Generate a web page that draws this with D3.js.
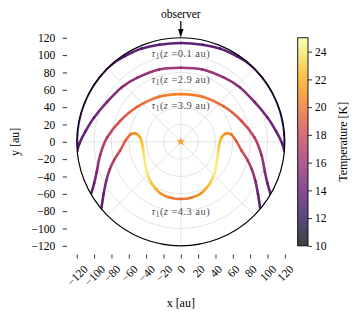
<!DOCTYPE html>
<html>
<head>
<meta charset="utf-8">
<script src="https://cdn.jsdelivr.net/npm/d3@7"></script>
<style>
body { margin: 0; background: #fff; }
text { font-family: "Liberation Serif", "Times New Roman", serif; }
</style>
</head>
<body>
<svg id="chart" width="359" height="320"></svg>
<script>
// tau = 1 surfaces at a few heights z, points as [x au, y au, T K]
const zLevels = ["0.1", "2.9", "3.9", "4.3"];

const tauZ01 = [
    [-119.8, -6, 13], [-119.6, 8, 13], [-117.5, 24, 13], [-112.8, 41, 13.2],
    [-104, 60, 13.3], [-92, 77, 13.4], [-80, 89, 13.5], [-65, 98.5, 13.5],
    [-45, 107.5, 13.6], [-25, 112, 13.6], [0, 114, 13.6], [25, 112, 13.6],
    [45, 107.5, 13.6], [65, 98.5, 13.5], [80, 89, 13.5], [92, 77, 13.4],
    [104, 60, 13.3], [112.8, 41, 13.2], [117.5, 24, 13], [119.6, 8, 13], [119.8, -8, 13]
];

const tauZ29 = [
    [-119.5, -11, 13.5], [-117, -2, 13.7], [-110, 12, 14], [-100, 28, 14.3],
    [-85, 46, 14.8], [-68, 63, 15.3], [-50, 74, 15.7], [-25, 83.5, 16], [0, 85.5, 16.1],
    [25, 83.5, 16], [50, 74, 15.7], [68, 63, 15.3], [85, 46, 14.8], [100, 28, 14.3],
    [110, 12, 14], [117, -2, 13.7], [119.5, -11, 13.5]
];

const tauZ39 = [
    [-104, -62, 13.5], [-100, -48, 14.2], [-97, -35, 15], [-93, -15, 16.2],
    [-85, 5, 17.3], [-70, 24, 18.5], [-50, 40.5, 19.5], [-25, 52, 20.3], [0, 55, 20.6],
    [25, 52, 20.3], [50, 40.5, 19.5], [70, 24, 18.5], [85, 5, 17.3], [93, -15, 16.2],
    [97, -35, 15], [100, -48, 14.2], [104, -62, 13.5]
];

const tauZ43 = [
    [-91.5, -76, 13], [-89, -60, 14], [-86, -45, 15.3], [-82, -32, 16.3],
    [-77, -21, 17.3], [-70, -10, 18.3], [-64, 1, 19.3], [-58, 8.5, 20.3],
    [-52, 9.5, 21], [-47, 5, 22], [-44, -5, 23], [-42, -20, 24.2], [-39, -36, 24.2],
    [-33, -49, 22.8], [-24, -59, 21.3], [-12, -64.5, 20.2], [0, -66, 19.8],
    [12, -64.5, 20.2], [24, -59, 21.3], [33, -49, 22.8], [39, -36, 24.2], [42, -20, 24.2],
    [44, -5, 23], [47, 5, 22], [52, 9.5, 21], [58, 8.5, 20.3], [64, 1, 19.3],
    [70, -10, 18.3], [77, -21, 17.3], [82, -32, 16.3], [86, -45, 15.3], [89, -60, 14], [91.5, -76, 13]
];

const curves = [tauZ01, tauZ29, tauZ39, tauZ43];

const axisTicks = [-120, -100, -80, -60, -40, -20, 0, 20, 40, 60, 80, 100, 120];
const cbarTicks = [10, 12, 14, 16, 18, 20, 22, 24];
const tempDomain = [10, 25];
const diskRadius = 120;
const gridRadii = [20, 40, 60, 80, 100];
const gridAngles = [0, 45, 90, 135, 180, 225, 270, 315];

// layout
const labelYs = [101, 71, 41, -81];
const cx = 180.8, cy = 141.8, half = 112.7;
const fs = 11.5;

const svg = d3.select("#chart");
const defs = svg.append("defs");

const sx = d3.scaleLinear().domain([-130, 130]).range([cx - half, cx + half]);
const sy = d3.scaleLinear().domain([-130, 130]).range([cy + half, cy - half]);
const color = d3.scaleSequential(d3.interpolateInferno).domain(tempDomain);
const k = sx(1) - sx(0);

// grid
const grid = svg.append("g").attr("stroke", "#dcdcdc").attr("stroke-width", 0.8).attr("fill", "none");
grid.selectAll("circle")
    .data(gridRadii)
    .enter()
    .append("circle")
    .attr("cx", sx(0))
    .attr("cy", sy(0))
    .attr("r", d => d * k);
grid.selectAll("line")
    .data(gridAngles)
    .enter()
    .append("line")
    .attr("x1", sx(0))
    .attr("y1", sy(0))
    .attr("x2", d => sx(diskRadius * Math.cos(d * Math.PI / 180)))
    .attr("y2", d => sy(diskRadius * Math.sin(d * Math.PI / 180)));

// curves, clipped to the disk
defs.append("clipPath").attr("id", "disk")
    .append("circle")
    .attr("cx", sx(0))
    .attr("cy", sy(0))
    .attr("r", diskRadius * k);

const curveG = svg.append("g").attr("clip-path", "url(#disk)");

function drawColoredCurve(pts, ci) {
    const P = pts.map(d => [sx(d[0]), sy(d[1])]);
    const n = P.length;
    for (let i = 0; i < n - 1; i++) {
        const p0 = P[Math.max(i - 1, 0)], p1 = P[i], p2 = P[i + 1], p3 = P[Math.min(i + 2, n - 1)];
        const c1 = [p1[0] + (p2[0] - p0[0]) / 6, p1[1] + (p2[1] - p0[1]) / 6];
        const c2 = [p2[0] - (p3[0] - p1[0]) / 6, p2[1] - (p3[1] - p1[1]) / 6];
        const path = d3.path();
        path.moveTo(p1[0], p1[1]);
        path.bezierCurveTo(c1[0], c1[1], c2[0], c2[1], p2[0], p2[1]);

        const id = `g${ci}_${i}`;
        const grad = defs.append("linearGradient")
            .attr("id", id)
            .attr("gradientUnits", "userSpaceOnUse")
            .attr("x1", p1[0]).attr("y1", p1[1])
            .attr("x2", p2[0]).attr("y2", p2[1]);
        grad.append("stop").attr("offset", 0).attr("stop-color", color(pts[i][2]));
        grad.append("stop").attr("offset", 1).attr("stop-color", color(pts[i + 1][2]));

        curveG.append("path")
            .attr("d", path.toString())
            .attr("fill", "none")
            .attr("stroke", `url(#${id})`)
            .attr("stroke-width", 2.6)
            .attr("stroke-linecap", "round")
            .attr("stroke-opacity", 0.92);
    }
}

curves.forEach((c, i) => drawColoredCurve(c, i));

// disk edge
svg.append("circle")
    .attr("cx", sx(0))
    .attr("cy", sy(0))
    .attr("r", diskRadius * k)
    .attr("fill", "none")
    .attr("stroke", "black")
    .attr("stroke-width", 1.2);

// star
svg.append("path")
    .attr("d", d3.symbol().type(d3.symbolStar).size(24)())
    .attr("transform", `translate(${sx(0)}, ${sy(0)})`)
    .attr("fill", "#f5a028");

// tau labels
const lab = svg.append("g")
    .attr("fill", "#505050")
    .attr("font-size", 10.5)
    .attr("letter-spacing", 0.45)
    .attr("text-anchor", "middle");
zLevels.forEach((z, i) => {
    const t = lab.append("text").attr("x", sx(0)).attr("y", sy(labelYs[i]) + 3.2);
    t.append("tspan").attr("font-style", "italic").text("τ");
    t.append("tspan").attr("font-size", 7.5).attr("dy", 2).text("1");
    t.append("tspan").attr("dy", -2).text("(");
    t.append("tspan").attr("font-style", "italic").text("z");
    t.append("tspan").text(` =${z} au)`);
});

// observer
svg.append("text")
    .attr("x", sx(0))
    .attr("y", 18)
    .attr("text-anchor", "middle")
    .attr("font-size", 11.5)
    .text("observer");
svg.append("line")
    .attr("x1", sx(0)).attr("x2", sx(0))
    .attr("y1", 21).attr("y2", 30)
    .attr("stroke", "black")
    .attr("stroke-width", 1.2);
svg.append("path")
    .attr("d", d3.line()([[sx(0) - 2.7, 29], [sx(0) + 2.7, 29], [sx(0), sy(diskRadius)]]) + "Z")
    .attr("fill", "black");

// axes
const axisY = svg.append("g")
    .attr("transform", `translate(67, 0)`)
    .call(d3.axisLeft(sy).tickValues(axisTicks).tickSize(4.4).tickPadding(7.4));
axisY.select(".domain").remove();

const axisX = svg.append("g")
    .attr("transform", `translate(0, 254.5)`)
    .call(d3.axisBottom(sx).tickValues(axisTicks).tickSize(4));
axisX.select(".domain").remove();

svg.selectAll(".tick line").attr("stroke-width", 0.8);
svg.selectAll(".tick text").attr("font-size", fs).attr("font-family", null).attr("fill", "black");

axisX.selectAll(".tick text").each(function () {
    const w = this.getComputedTextLength();
    const H = (w + fs) * Math.SQRT1_2;
    d3.select(this)
        .attr("y", 0)
        .attr("dy", "0.35em")
        .attr("text-anchor", "middle")
        .attr("transform", `translate(0, ${4 + 4.5 + H / 2}) rotate(-45)`);
});

svg.append("text")
    .attr("x", sx(0))
    .attr("y", 307)
    .attr("text-anchor", "middle")
    .attr("font-size", 12)
    .text("x [au]");

svg.append("text")
    .attr("transform", `translate(19, ${sy(0)}) rotate(-90)`)
    .attr("text-anchor", "middle")
    .attr("font-size", 12)
    .text("y [au]");

// colorbar
const cb = { x: 297.7, w: 10.3, top: sy(diskRadius), bottom: sy(-diskRadius) };
const cbGrad = defs.append("linearGradient")
    .attr("id", "cbar")
    .attr("x1", 0).attr("y1", 1).attr("x2", 0).attr("y2", 0);
d3.range(0, 1.0001, 0.05).forEach(t => {
    cbGrad.append("stop")
        .attr("offset", t)
        .attr("stop-color", d3.interpolateInferno(t))
        .attr("stop-opacity", 0.75);
});
svg.append("rect")
    .attr("x", cb.x).attr("y", cb.top)
    .attr("width", cb.w).attr("height", cb.bottom - cb.top)
    .attr("fill", "url(#cbar)")
    .attr("stroke", "black")
    .attr("stroke-width", 0.9);

const sc = d3.scaleLinear().domain(tempDomain).range([cb.bottom, cb.top]);
const axisC = svg.append("g")
    .attr("transform", `translate(${cb.x + cb.w}, 0)`)
    .call(d3.axisRight(sc).tickValues(cbarTicks).tickSize(4).tickPadding(3));
axisC.select(".domain").remove();
axisC.selectAll(".tick line").attr("stroke-width", 0.8);
axisC.selectAll(".tick text").attr("font-size", fs).attr("font-family", null).attr("fill", "black");

svg.append("text")
    .attr("transform", `translate(347, ${sc(17.5)}) rotate(-90)`)
    .attr("text-anchor", "middle")
    .attr("font-size", 12)
    .text("Temperature [K]");
</script>
</body>
</html>
